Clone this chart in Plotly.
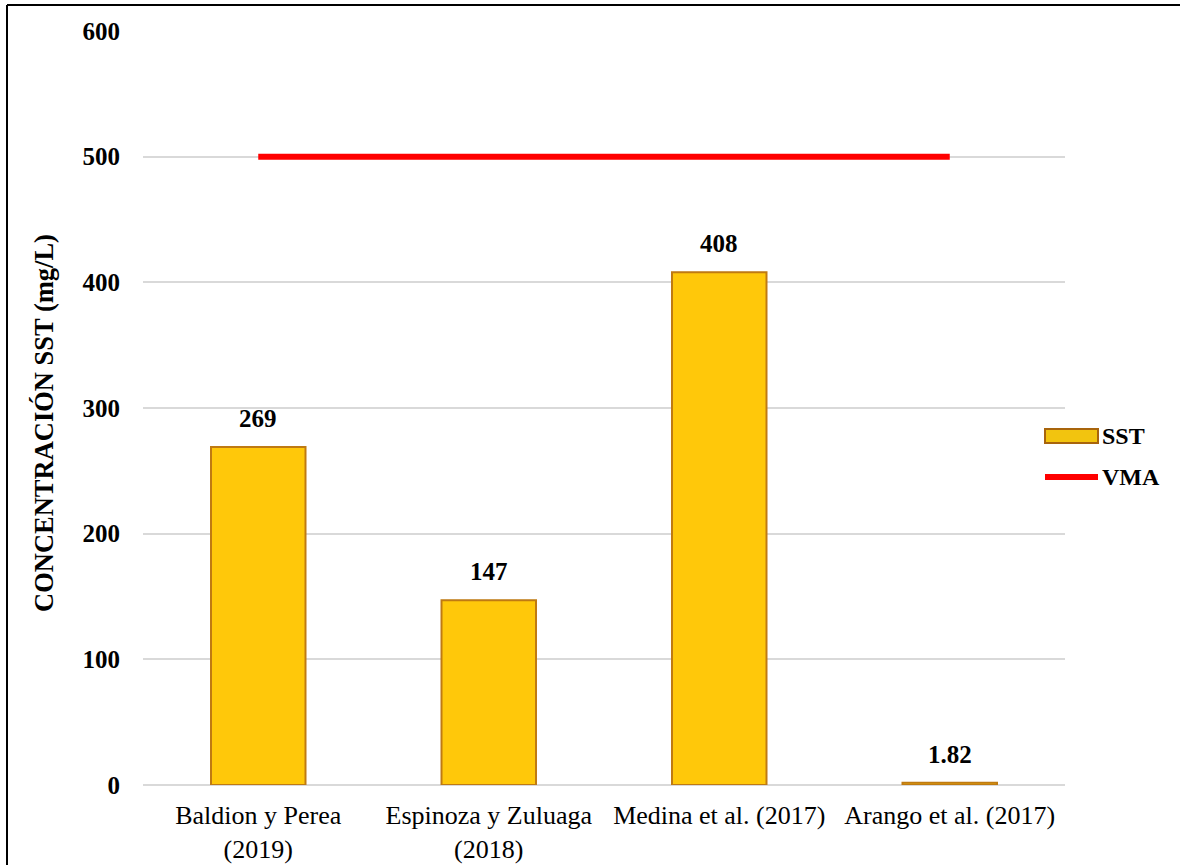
import plotly.graph_objects as go

# Study labels and suspended-solids concentrations (mg/L)
studies = [
    "Baldion y Perea<br>(2019)",
    "Espinoza y Zuluaga<br>(2018)",
    "Medina et al. (2017)",
    "Arango et al. (2017)",
]
sst_values = [269, 147, 408, 1.82]
sst_labels = ["269", "147", "408", "1.82"]
vma_limit = [500, 500, 500, 500]

y_ticks = [0, 100, 200, 300, 400, 500, 600]

FONT = "Liberation Serif, Times New Roman, serif"
W, H = 1180, 865
ML, MR, MT, MB = 143, 115, 31, 80
PW, PH = W - ML - MR, H - MT - MB


def px_x(p):
    return (p - ML) / PW


def px_y(p):
    return 1 - (p - MT) / PH


fig = go.Figure()

fig.add_trace(go.Bar(
    x=studies,
    y=sst_values,
    name="SST",
    marker=dict(color="#FFC80A", line=dict(color="#BF7A12", width=2)),
    showlegend=False,
))

fig.add_trace(go.Scatter(
    x=studies,
    y=vma_limit,
    name="VMA",
    mode="lines",
    line=dict(color="#FF0000", width=6),
    showlegend=False,
))

# Value labels above each bar
annotations = [
    dict(x=s, y=v, text=f"<b>{t}</b>", xref="x", yref="y",
         yanchor="bottom", yshift=13, showarrow=False,
         font=dict(family=FONT, size=25, color="black"))
    for s, v, t in zip(studies, sst_values, sst_labels)
]

# Hand-drawn legend on the right side
shapes = [
    dict(type="rect", xref="paper", yref="paper",
         x0=px_x(1045), x1=px_x(1098), y0=px_y(443), y1=px_y(429),
         fillcolor="#F2C40F", line=dict(color="#A8640C", width=2)),
    dict(type="line", xref="paper", yref="paper",
         x0=px_x(1045), x1=px_x(1098), y0=px_y(477), y1=px_y(477),
         line=dict(color="#FF0000", width=6)),
    # outer frame
    dict(type="line", xref="paper", yref="paper",
         x0=px_x(7), x1=px_x(1180), y0=px_y(5), y1=px_y(5),
         line=dict(color="black", width=2)),
    dict(type="line", xref="paper", yref="paper",
         x0=px_x(7), x1=px_x(7), y0=px_y(5), y1=px_y(865),
         line=dict(color="black", width=2)),
]

annotations += [
    dict(text="<b>SST</b>", xref="paper", yref="paper",
         x=px_x(1100), y=px_y(436), xanchor="left", yanchor="middle",
         showarrow=False, font=dict(family=FONT, size=24, color="black")),
    dict(text="<b>VMA</b>", xref="paper", yref="paper",
         x=px_x(1100), y=px_y(477), xanchor="left", yanchor="middle",
         showarrow=False, font=dict(family=FONT, size=24, color="black")),
    # vertical axis title
    dict(text="<b>CONCENTRACIÓN SST (mg/L)</b>", xref="paper", yref="paper",
         x=px_x(44), y=px_y(423), xanchor="center", yanchor="middle",
         textangle=-90, showarrow=False,
         font=dict(family=FONT, size=26.5, color="black")),
]

fig.update_layout(
    width=W, height=H,
    margin=dict(l=ML, r=MR, t=MT, b=MB, autoexpand=False),
    paper_bgcolor="white",
    plot_bgcolor="white",
    bargap=0.59,
    shapes=shapes,
    annotations=annotations,
    font=dict(family=FONT, color="black"),
    xaxis=dict(
        type="category",
        automargin=False,
        showgrid=False,
        showline=False,
        ticks="",
        ticklabelstandoff=12,
        tickfont=dict(family=FONT, size=26, color="black"),
    ),
    yaxis=dict(
        range=[0, 600],
        automargin=False,
        tickvals=y_ticks,
        ticktext=[f"<b>{v}</b>" for v in y_ticks],
        tickfont=dict(family=FONT, size=25, color="black"),
        showgrid=True,
        gridcolor="#D9D9D9",
        gridwidth=1.5,
        zeroline=True,
        zerolinecolor="#D9D9D9",
        zerolinewidth=1.5,
        showline=False,
        ticks="",
        ticklabelstandoff=22,
    ),
)

fig.write_html("out.html")
